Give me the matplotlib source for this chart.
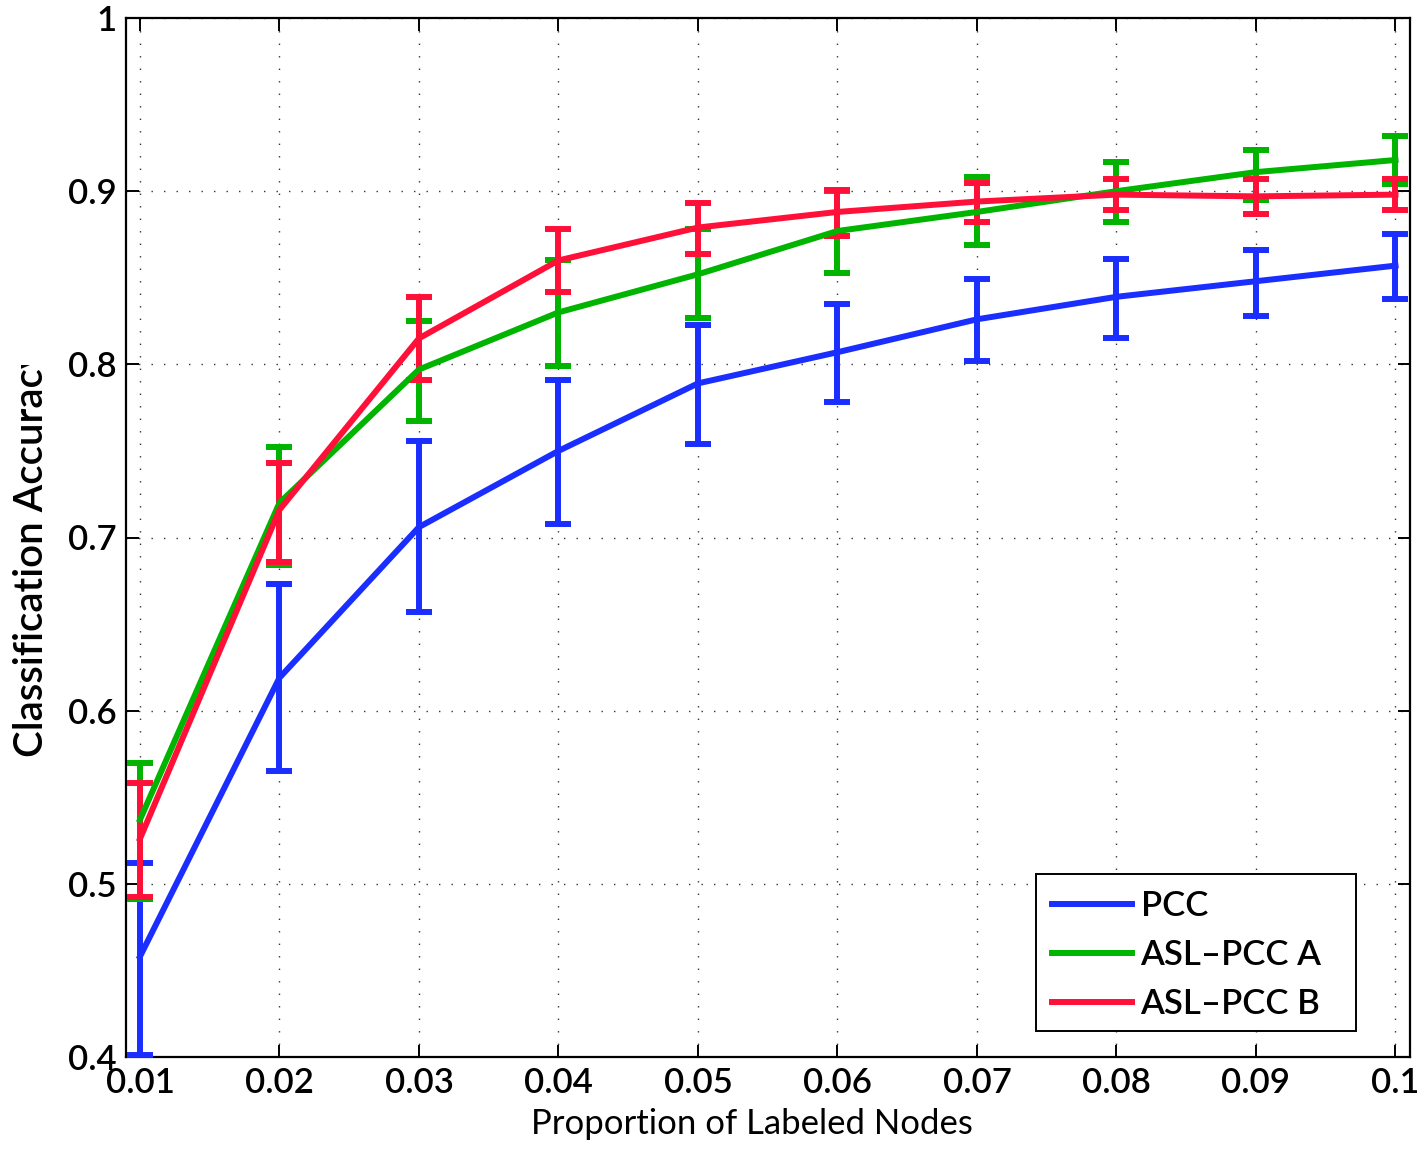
import matplotlib
matplotlib.use("Agg")
import matplotlib.pyplot as plt
from matplotlib.lines import Line2D
from matplotlib.patches import Rectangle
from matplotlib.transforms import Bbox
import numpy as np

plt.rcParams['font.family'] = ['Lato', 'DejaVu Sans']
plt.rcParams['font.weight'] = 'semibold'

# ---- data ----
proportion = [0.01, 0.02, 0.03, 0.04, 0.05, 0.06, 0.07, 0.08, 0.09, 0.10]

pcc_mean = [0.458, 0.619, 0.706, 0.750, 0.789, 0.807, 0.826, 0.839, 0.848, 0.857]
pcc_low  = [0.401, 0.565, 0.657, 0.708, 0.754, 0.778, 0.802, 0.815, 0.828, 0.838]
pcc_high = [0.512, 0.673, 0.756, 0.791, 0.823, 0.835, 0.849, 0.861, 0.866, 0.875]

asl_a_mean = [0.537, 0.720, 0.797, 0.830, 0.852, 0.877, 0.888, 0.900, 0.911, 0.918]
asl_a_low  = [0.491, 0.684, 0.767, 0.799, 0.827, 0.853, 0.869, 0.882, 0.895, 0.904]
asl_a_high = [0.570, 0.752, 0.825, 0.860, 0.878, 0.900, 0.908, 0.917, 0.924, 0.932]

asl_b_mean = [0.526, 0.716, 0.815, 0.860, 0.879, 0.888, 0.894, 0.898, 0.897, 0.898]
asl_b_low  = [0.4925, 0.686, 0.791, 0.842, 0.864, 0.874, 0.882, 0.889, 0.887, 0.889]
asl_b_high = [0.558, 0.743, 0.839, 0.878, 0.893, 0.9005, 0.905, 0.907, 0.907, 0.907]

series_names = ['PCC', 'ASL\u2013PCC A', 'ASL\u2013PCC B']
series_colors = ['#1a2eff', '#00b400', '#ff1038']

x_ticks = [0.01, 0.02, 0.03, 0.04, 0.05, 0.06, 0.07, 0.08, 0.09, 0.10]
x_ticklabels = ['0.01', '0.02', '0.03', '0.04', '0.05', '0.06', '0.07', '0.08', '0.09', '0.1']
y_ticks = [0.4, 0.5, 0.6, 0.7, 0.8, 0.9, 1.0]
y_ticklabels = ['0.4', '0.5', '0.6', '0.7', '0.8', '0.9', '1']

# ---- figure ----
W, H = 1417, 1149
fig = plt.figure(figsize=(W / 100, H / 100), dpi=100)
ax = fig.add_axes([126 / W, (H - 1057) / H, (1410 - 126) / W, (1057 - 18) / H])

data = [(pcc_mean, pcc_low, pcc_high),
        (asl_a_mean, asl_a_low, asl_a_high),
        (asl_b_mean, asl_b_low, asl_b_high)]

for (m, lo, hi), col in zip(data, series_colors):
    m = np.array(m); lo = np.array(lo); hi = np.array(hi)
    yerr = np.vstack([m - lo, hi - m])
    ax.errorbar(proportion, m, yerr=yerr, color=col, lw=4.3, elinewidth=4.3,
                capsize=9.5, capthick=4.3, zorder=3)

ax.set_xlim(0.009, 0.10104)
ax.set_ylim(0.4, 1.0)
ax.set_xticks(x_ticks)
ax.set_xticklabels(x_ticklabels)
ax.set_yticks(y_ticks)
ax.set_yticklabels(y_ticklabels)
ax.tick_params(direction='in', length=9, width=1.4, top=True, right=True,
               labelsize=25, pad=7, colors='black')
ax.grid(True, color='black', linestyle=(0, (1, 8)), linewidth=1.0, alpha=0.8)
for s in ax.spines.values():
    s.set_linewidth(1.6)

ax.set_xlabel('Proportion of Labeled Nodes', fontsize=25)
ax.xaxis.set_label_coords((752 - 126) / (1410 - 126), -(1108 - 1057) / (1057 - 18))

ylab = fig.text(32 / W, (H - 757) / H, 'Classification Accuracy', rotation=90,
                ha='center', va='bottom', fontsize=29)
ylab.set_clip_box(Bbox([[0, 0], [W, H - 365]]))
ylab.set_clip_on(True)

# legend frame (MATLAB-style box) and entries
fig.add_artist(Rectangle((1036 / W, (H - 1031) / H), (1356 - 1036) / W, (1031 - 874) / H,
                         transform=fig.transFigure, facecolor='white',
                         edgecolor='black', linewidth=1.4, zorder=5))
handles = [Line2D([], [], color=c, lw=4.3) for c in series_colors]
leg = fig.legend(handles, series_names, loc='upper left',
                 bbox_to_anchor=(1052 / W, (H - 890) / H),
                 borderaxespad=0, borderpad=0, fontsize=25, handlelength=2.3,
                 handletextpad=0.25, labelspacing=0.49, frameon=False)
leg.set_zorder(6)

fig.savefig('out.png', dpi=100)
